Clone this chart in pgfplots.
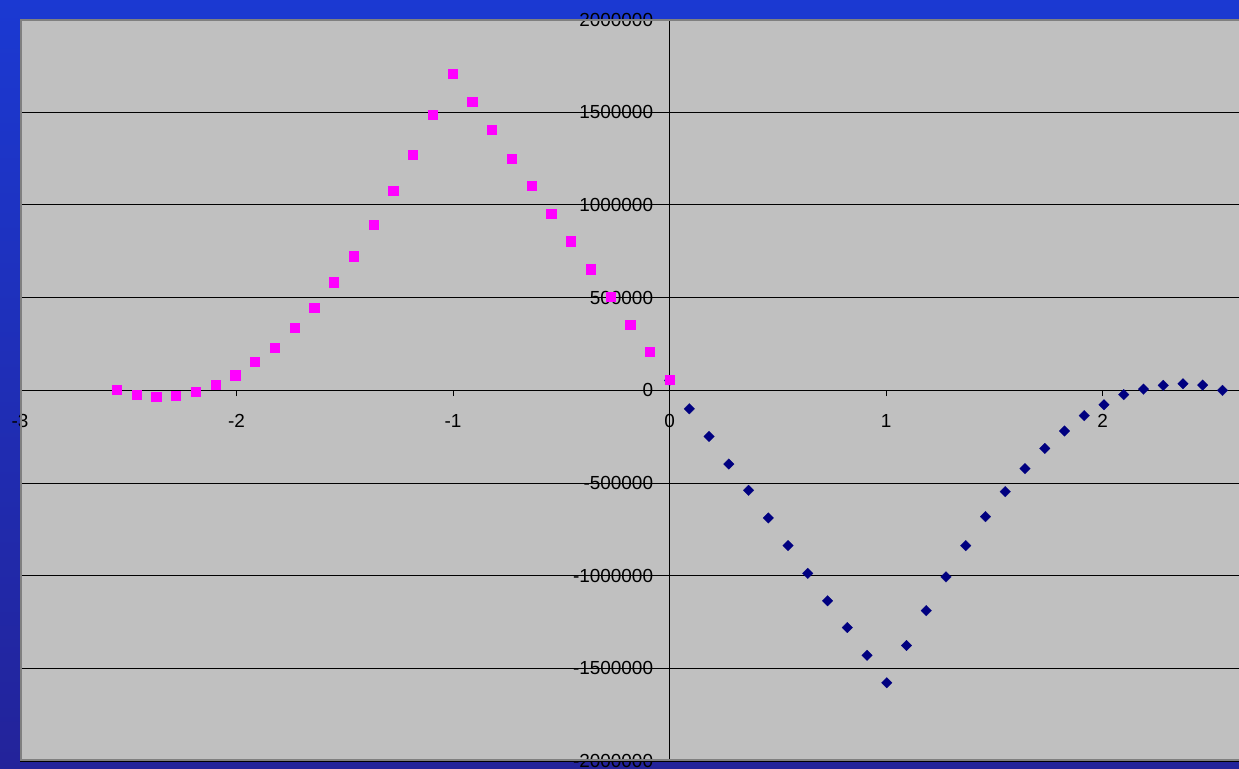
\documentclass[border=0pt]{standalone}
\usepackage{pgfplots}
\pgfplotsset{compat=1.18}
\usepackage{fontspec}
\setmainfont{Liberation Sans}
\definecolor{bgtop}{HTML}{1B39D2}
\definecolor{bgbot}{HTML}{23239A}
\definecolor{plotgray}{HTML}{C0C0C0}
\definecolor{framegray}{HTML}{808080}
\definecolor{navyblue}{HTML}{000080}
\definecolor{mag}{HTML}{FF00FF}
\begin{document}
\begin{tikzpicture}[x=1bp,y=1bp]
\clip (0,0) rectangle (1239,769);
\shade[top color=bgtop, bottom color=bgbot] (0,0) rectangle (1239,769);
\begin{axis}[
  at={(20bp,8bp)}, anchor=south west,
  scale only axis, width=1219bp, height=741.5bp,
  xmin=-3, xmax=2.63, ymin=-2000000, ymax=2000000,
  axis lines=middle,
  axis line style={-, black, line width=0.8bp},
  every inner x axis line/.append style={-},
  every inner y axis line/.append style={-},
  axis background/.style={fill=plotgray},
  ymajorgrids, grid style={black, line width=0.8bp},
  xtick={-3,-2,-1,0,1,2}, xticklabels={-3,-2,-1,0,1,2},
  ytick={-2000000,-1500000,-1000000,-500000,0,500000,1000000,1500000,2000000},
  yticklabels={-2000000,-1500000,-1000000,-500000,0,500000,1000000,1500000,2000000},
  scaled x ticks=false, scaled y ticks=false,
  hide obscured x ticks=false, hide obscured y ticks=false,
  tick align=outside, major tick length=6bp,
  tick style={black, line width=0.8bp},
  ticklabel style={font=\fontsize{19}{22}\selectfont},
  xticklabel style={yshift=-15bp},
  yticklabel style={xshift=-7bp},
]
\addplot[only marks, mark=square*, mark size=3.75bp, mark options={rotate=45, fill=navyblue, draw=navyblue, line width=0.2bp}] coordinates {
(0,53000) (0.0912,-100000) (0.1824,-249000) (0.2736,-398000) (0.3648,-540000)
(0.4560,-689000) (0.5472,-838000) (0.6384,-988000) (0.7296,-1136000) (0.8208,-1280000)
(0.9120,-1430000) (1.0032,-1578000) (1.0944,-1377000) (1.1856,-1189000) (1.2768,-1007000)
(1.3680,-838000) (1.4592,-682000) (1.5504,-547000) (1.6416,-423000) (1.7328,-314000)
(1.8240,-220000) (1.9152,-137000) (2.0064,-78000) (2.0976,-24000) (2.1888,6000)
(2.2800,26000) (2.3712,35000) (2.4624,28000) (2.5536,-1000)
};
\addplot[only marks, mark=square*, mark size=4.6bp, mark options={fill=mag, draw=mag, line width=0.2bp}] coordinates {
(-2.5536,4000) (-2.4624,-22000) (-2.3712,-36000) (-2.2800,-31000) (-2.1888,-9000)
(-2.0976,31000) (-2.0064,82000) (-1.9152,153000) (-1.8240,232000) (-1.7328,336000)
(-1.6416,446000) (-1.5504,583000) (-1.4592,724000) (-1.3680,895000) (-1.2768,1075000)
(-1.1856,1271000) (-1.0944,1485000) (-1.0032,1706000) (-0.9120,1557000) (-0.8208,1406000)
(-0.7296,1251000) (-0.6384,1102000) (-0.5472,953000) (-0.4560,804000) (-0.3648,654000)
(-0.2736,503000) (-0.1824,356000) (-0.0912,207000) (0,56000)
};
\draw[framegray, line width=3bp] (rel axis cs:1,1) -- (rel axis cs:0,1) -- (rel axis cs:0,0) -- (rel axis cs:1,0);
\end{axis}
\end{tikzpicture}
\end{document}
